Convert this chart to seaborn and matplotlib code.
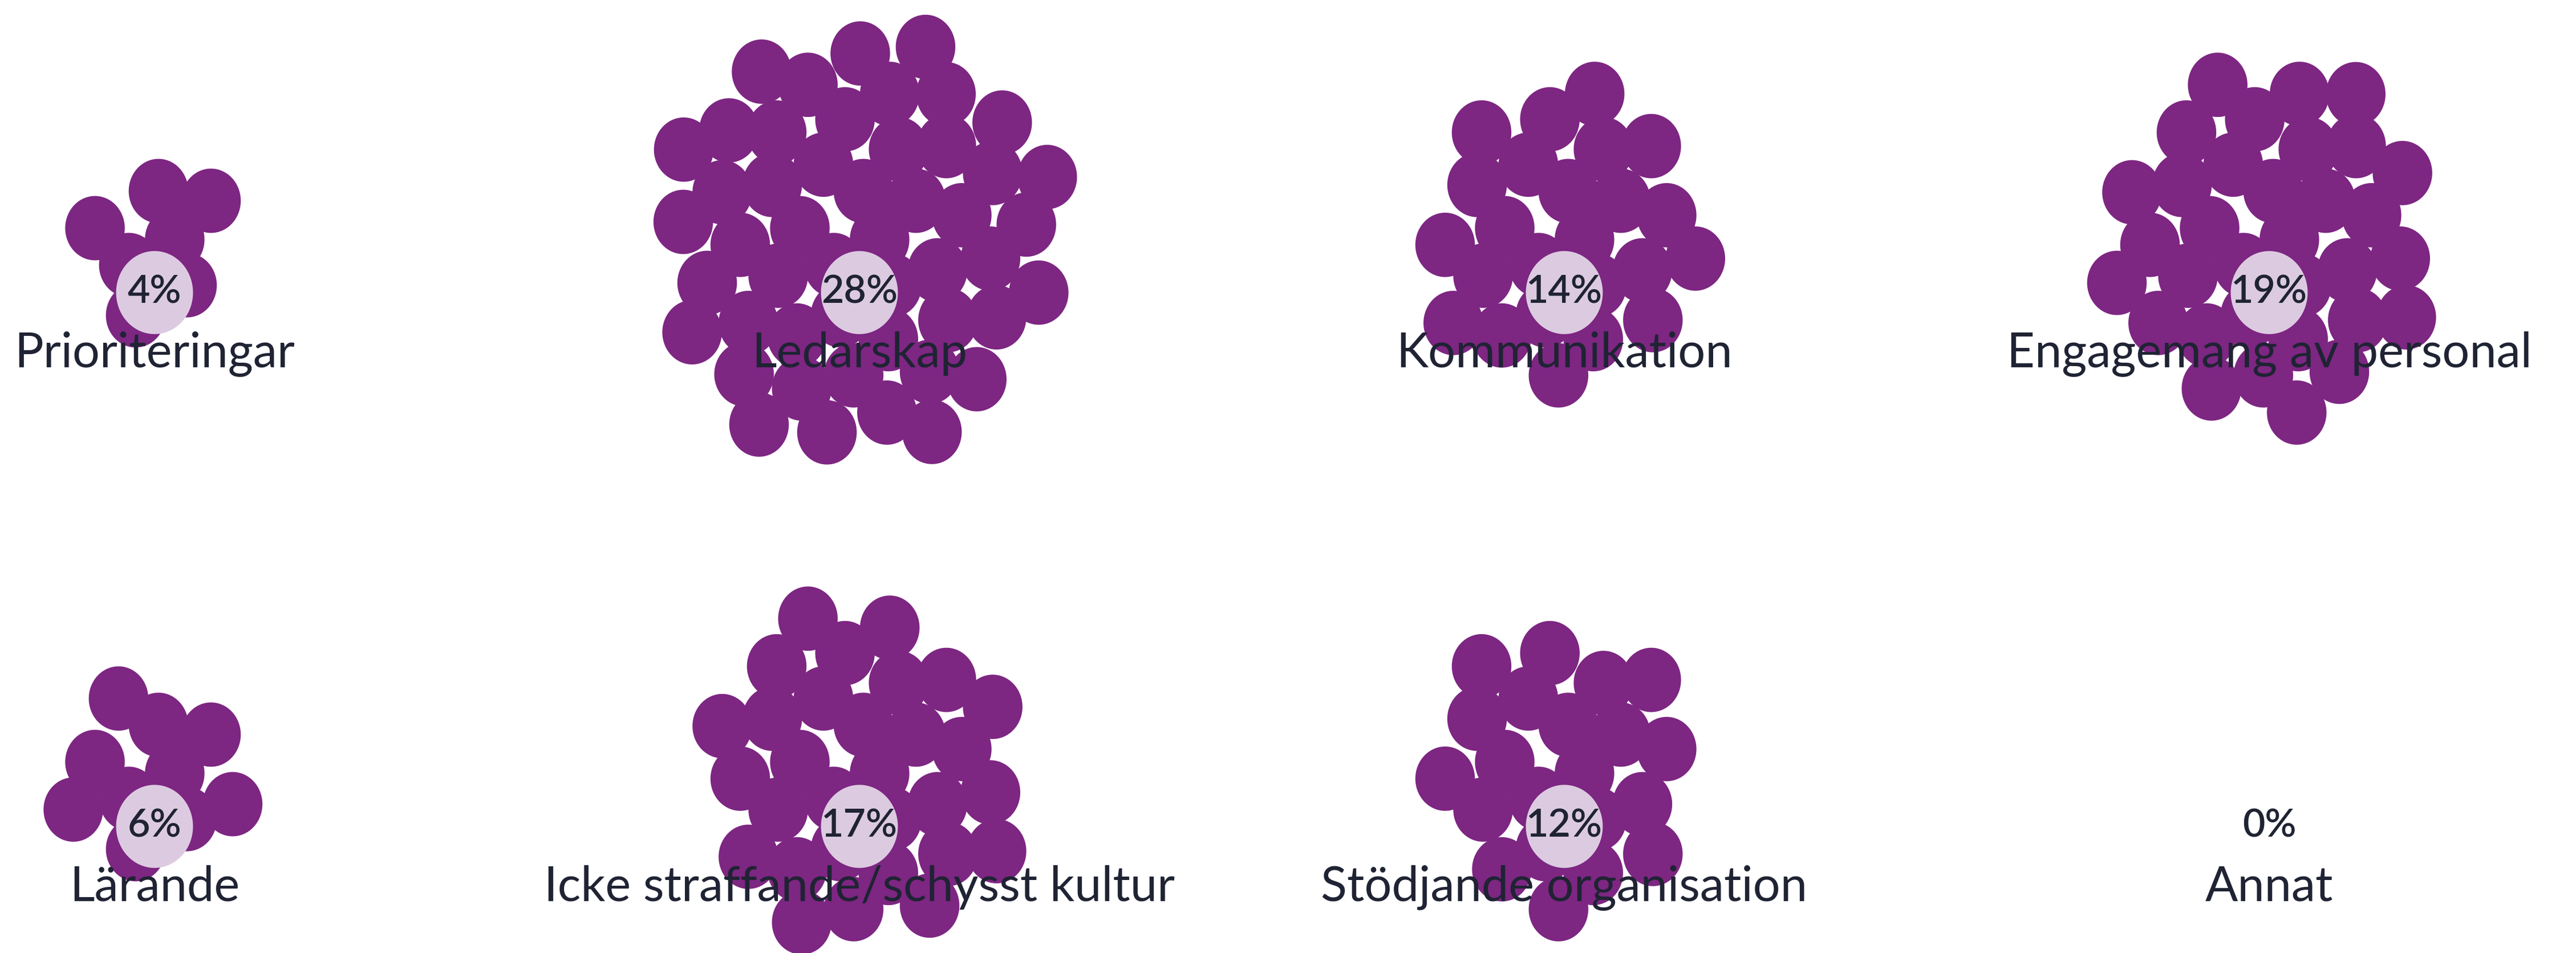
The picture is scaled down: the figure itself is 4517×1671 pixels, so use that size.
import numpy as np
import pandas as pd
import matplotlib.pyplot as plt
import seaborn as sns
from matplotlib.path import Path

# Data (one bubble per response, 174 responses)
categories = ["Prioriteringar", "Ledarskap", "Kommunikation", "Engagemang av personal",
              "Lärande", "Icke straffande/schysst kultur", "Stödjande organisation", "Annat"]
counts = [7, 49, 24, 33, 10, 30, 21, 0]
percent_labels = ["4%", "28%", "14%", "19%", "6%", "17%", "12%", "0%"]

PURPLE = "#7d2682"
PINK = "#dccbe0"
TEXT = "#1f2333"

sns.set_theme(style="white")
plt.rcParams["font.family"] = ["Lato", "DejaVu Sans"]

# grid layout: 4 columns x 2 rows, positions in pixel-like units
col_x0, col_step = 271, 1236
row_y0, row_step = 513, 936
stretch = 1.08          # bubbles are a bit taller than wide
cx, cy = 50, 54

golden = np.pi * (3 - np.sqrt(5))
rows = []
centers = []
for k, (cat, n) in enumerate(zip(categories, counts)):
    px = col_x0 + (k % 4) * col_step
    py = row_y0 + (k // 4) * row_step
    centers.append((px, py))
    for i in range(n):
        r = np.sqrt(i + 0.5)
        a = i * golden
        rows.append({"category": cat,
                     "x": px + cx * r * np.cos(a),
                     "y": py - 93 + cy * r * np.sin(a)})
bubbles = pd.DataFrame(rows)

# elliptical marker
t = np.linspace(0, 2 * np.pi, 80)
ellipse = Path(np.column_stack([np.cos(t) / stretch, np.sin(t)]), closed=True)

fig = plt.figure(figsize=(45.17, 16.71), dpi=100)
ax = fig.add_axes([0, 0, 1, 1])

sns.scatterplot(data=bubbles, x="x", y="y", marker=ellipse, s=6600,
                color=PURPLE, linewidth=0, edgecolor="none", ax=ax, legend=False)

lab = pd.DataFrame({"x": [c[0] for c in centers], "y": [c[1] for c in centers],
                    "n": counts})
sns.scatterplot(data=lab[lab["n"] > 0], x="x", y="y", marker=ellipse, s=11000,
                color=PINK, linewidth=0, edgecolor="none", ax=ax, legend=False)

for (px, py), cat, pct in zip(centers, categories, percent_labels):
    ax.text(px, py, pct, ha="center", va="center", fontsize=49,
            fontweight="semibold", color=TEXT)
    ax.text(px, py + 107, cat, ha="center", va="center", fontsize=61,
            color=TEXT)

ax.set_xlim(0, 4517)
ax.set_ylim(1671, 0)
ax.axis("off")

fig.savefig("out.png", dpi=100, facecolor="white")
